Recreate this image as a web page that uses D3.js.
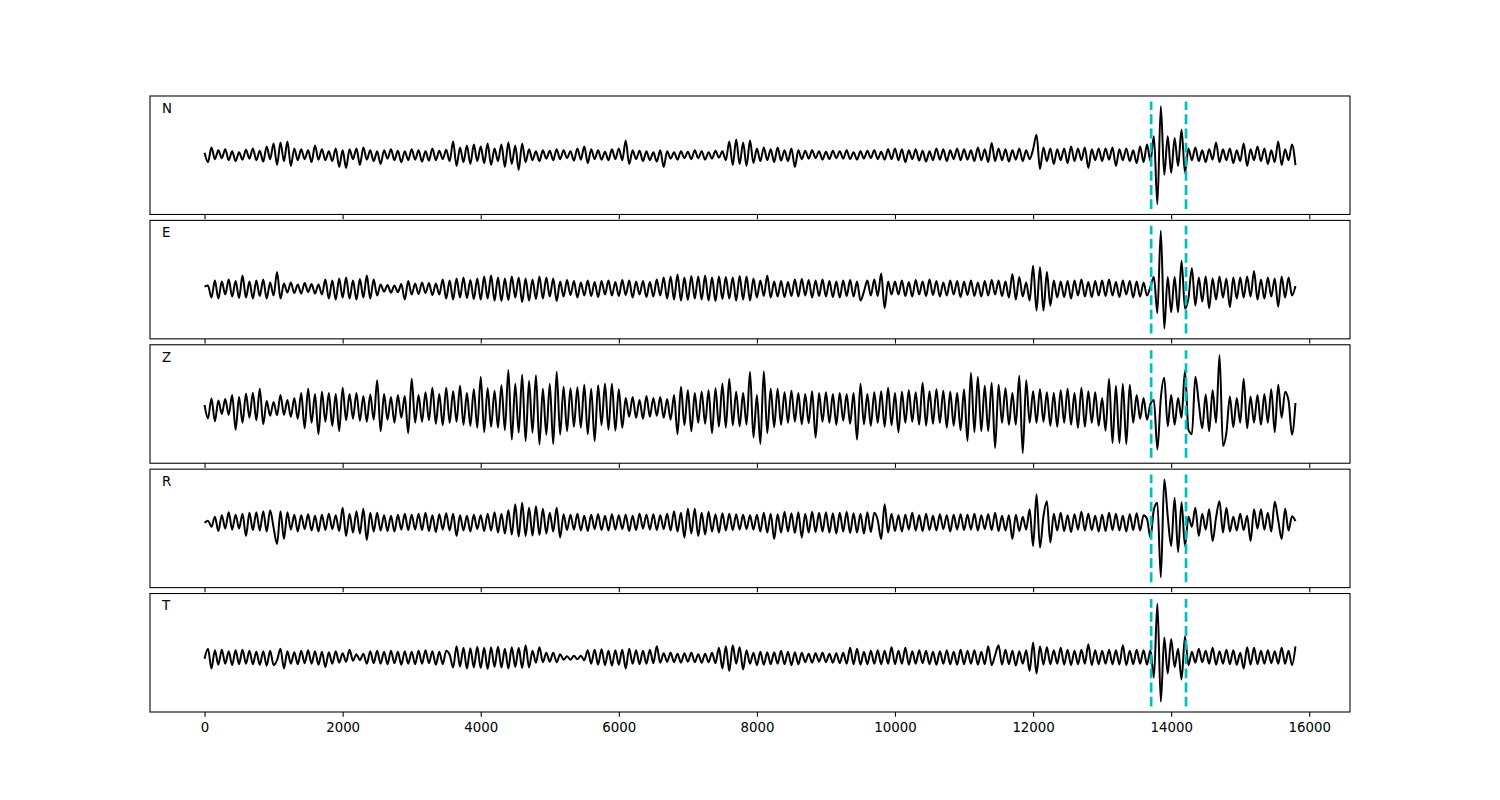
<!DOCTYPE html>
<html>
<head>
<meta charset="utf-8">
<script src="https://cdn.jsdelivr.net/npm/d3@7"></script>
<style>
  body { margin: 0; background: #fff; }
  svg { display: block; font-family: "DejaVu Sans", sans-serif; }
</style>
</head>
<body>
<svg id="chart" width="1500" height="800"></svg>
<script>
var channels = ["N", "E", "Z", "R", "T"];
var sampleStep = 50;

// amplitudes, one value every 50 samples (a row = 1000 samples)
var traceN = [
  5,-14,16,-8,10,-6,12,-10,8,-12,6,-9,11,-7,14,-10,9,-13,18,-8,
  24,-20,26,-12,28,-22,14,-10,12,-8,10,-14,20,-9,12,-10,8,-12,14,-24,
  10,-26,12,-8,14,-20,16,-9,10,-12,8,-18,10,-7,12,-10,9,-14,8,-10,
  12,-9,10,-13,8,-11,14,-10,9,-8,11,-12,28,-22,16,-14,20,-18,22,-12,
  18,-16,24,-20,14,-12,22,-24,26,-18,20,-30,24,-14,12,-10,8,-12,10,-7,
  9,-10,12,-8,10,-6,8,-11,14,-9,18,-16,12,-8,10,-9,7,-10,12,-8,
  14,-10,30,-18,10,-8,9,-12,8,-10,6,-13,10,-24,8,-7,6,-9,8,-6,
  7,-8,10,-6,8,-9,6,-7,9,-5,8,-10,28,-20,32,-18,26,-22,30,-16,
  14,-12,16,-10,12,-14,16,-11,10,-12,14,-24,10,-8,9,-7,10,-6,8,-9,
  7,-8,9,-6,8,-7,10,-8,6,-9,8,-7,9,-6,10,-8,7,-9,12,-8,
  14,-10,12,-14,10,-8,12,-11,9,-13,8,-10,14,-9,12,-12,10,-8,14,-10,
  12,-9,10,-12,16,-10,12,-14,25,-12,14,-10,12,-13,10,-9,14,-12,10,-8,
  12,42,-28,16,-12,14,-18,12,-10,14,-16,18,-12,14,-10,16,-26,12,-10,14,
  -12,14,-9,16,-22,12,-10,14,-12,10,-16,18,-14,22,-12,39,-100,100,-40,39,
  -36,35,-22,52,-36,14,-10,16,-12,10,-14,12,-9,26,-14,12,-10,14,-16,10,
  -12,24,-22,12,-10,18,-12,14,-18,10,-14,28,-20,12,-10,22,-20
];
var traceE = [
  4,6,-18,16,-20,14,-12,18,-16,15,-19,26,-18,14,-20,16,-15,18,-20,12,
  -14,33,-20,10,-8,12,-9,8,-10,11,-7,9,-10,8,-12,18,-20,16,-22,20,
  -18,22,-20,16,-22,19,-18,26,-20,18,-14,8,-6,7,-8,6,-7,9,-22,15,
  -12,10,-11,12,-9,11,-13,10,-12,18,-20,16,-22,20,-18,22,-19,17,-21,20,
  -22,24,-20,26,-24,22,-25,20,-23,24,-18,22,-27,20,-24,18,-21,24,-20,22,
  -16,20,-25,14,-16,17,-13,15,-18,12,-14,16,-15,13,-17,15,-12,16,-14,13,
  -15,17,-13,16,-18,14,-12,15,-17,13,-16,18,-14,22,-20,24,-22,28,-24,22,
  -23,25,-20,24,-22,26,-24,22,-25,24,-21,23,-20,22,-24,25,-22,24,-24,20,
  -18,16,-15,26,-18,14,-16,15,-17,13,-15,18,-16,19,-14,17,-18,16,-15,18,
  -16,15,-17,14,-18,16,-15,17,-16,14,-24,-6,16,-14,18,-15,30,-39,14,-12,
  14,-12,16,-15,13,-16,17,-12,14,-15,18,-13,15,-16,12,-14,16,-12,15,-17,
  14,-13,16,-15,12,-16,15,-14,17,-12,16,-15,14,-18,29,-22,23,-16,12,-24,
  46,-44,43,-44,33,-34,16,-18,14,-17,15,-20,16,-14,18,-16,13,-17,15,-14,
  16,-15,18,-14,13,-17,16,-12,15,-18,14,-16,12,-14,4,23,-49,116,-80,23,
  -47,23,-47,56,-40,-20,41,-34,22,-26,24,-39,20,-22,24,-18,20,-37,22,-20,
  22,-18,24,-16,35,-22,18,-20,22,-16,20,-36,24,-18,22,-14,5
];
var traceZ = [
  6,-21,19,-27,15,-12,18,-14,26,-44,22,-30,29,-20,31,-25,39,-33,14,-16,
  12,-15,26,-14,16,-18,20,-22,30,-41,39,-30,28,-53,33,-28,30,-36,28,-47,
  41,-25,28,-22,30,-26,24,-28,27,-24,56,-47,28,-24,22,-30,26,-20,24,-51,
  59,-30,26,-28,32,-25,41,-32,28,-35,41,-30,34,-28,45,-34,30,-36,38,-40,
  63,-49,40,-38,35,-40,46,-45,77,-64,49,-50,67,-67,55,-50,66,-74,39,-54,
  49,-73,73,-54,43,-47,40,-38,42,-40,47,-53,39,-67,46,-35,49,-44,49,-46,
  38,-40,20,-18,22,-20,16,-22,24,-18,20,-16,22,-20,18,-24,26,-53,43,-35,
  36,-47,30,-30,33,-32,36,-51,40,-38,49,-40,59,-35,33,-37,30,-34,73,-60,
  26,-73,74,-51,39,-39,39,-34,32,-30,35,-28,30,-33,28,-31,34,-60,30,-28,
  32,-30,28,-34,30,-26,28,-32,30,-64,49,-33,28,-36,32,-30,34,-38,41,-35,
  30,-49,33,-30,36,-28,32,-34,51,-36,34,-32,38,-30,35,-40,33,-36,30,-45,
  38,-67,71,-49,63,-47,45,-47,51,-81,47,-30,40,-34,30,-34,65,-91,56,-30,
  34,-30,38,-28,32,-36,30,-38,36,-30,39,-34,30,-40,41,-38,34,-30,32,-36,
  20,-46,59,-71,45,-71,49,-73,47,-30,26,-22,20,-24,8,16,-84,20,61,-37,
  26,-34,20,-20,76,-44,-53,63,10,-41,27,-47,36,-30,107,-77,-50,23,-39,20,
  -30,59,-41,23,-30,26,-34,28,-30,38,-49,47,-20,33,15,-54,10
];
var traceR = [
  0,4,-8,12,-17,15,-12,21,-14,16,-12,18,-27,20,-15,21,-16,23,-18,25,
  -10,-43,23,-33,21,-14,16,-18,15,-13,17,-16,14,-18,16,-15,18,-13,15,-17,
  30,-27,18,-20,23,-22,28,-35,20,-18,20,-16,15,-17,14,-18,16,-14,18,-15,
  16,-14,18,-15,20,-17,15,-19,17,-14,19,-16,18,-27,15,-16,14,-18,16,-13,
  15,-17,18,-16,21,-20,18,-22,25,-24,37,-28,40,-27,30,-26,33,-25,28,-22,
  20,-18,30,-30,17,-15,16,-14,18,-16,14,-17,16,-13,17,-15,14,-16,17,-14,
  15,-13,16,-17,14,-15,18,-12,16,-14,17,-15,15,-13,18,-16,23,-18,20,-30,
  28,-22,28,-27,20,-24,22,-18,17,-20,19,-16,18,-15,17,-14,16,-13,15,-14,
  16,-18,20,-20,18,-33,17,-20,22,-18,19,-21,21,-30,18,-20,22,-19,20,-18,
  21,-20,19,-22,20,-18,22,-21,19,-20,18,-22,21,-19,20,5,-33,37,-20,18,
  -17,15,-18,16,-14,20,-16,15,-17,18,-15,14,-16,17,-13,15,-18,16,-14,17,
  -15,16,-14,18,-16,15,-13,17,-15,20,-17,14,-16,15,-33,16,-17,12,-14,27,
  -47,57,-50,13,43,-40,18,-16,20,-17,15,-19,17,-14,22,-16,18,-15,14,-18,
  16,-17,20,-15,18,-16,14,-18,17,-15,19,-16,15,8,-30,27,40,-110,87,13,
  -47,50,-59,41,-47,12,-8,30,-27,18,-14,27,-37,10,43,-20,30,-18,12,-16,
  18,-15,14,-37,27,-12,27,-14,20,-18,42,5,-33,28,-16,13,3
];
var traceT = [
  -2,18,-22,15,-14,16,-12,13,-15,15,-13,16,-12,14,-13,12,-14,13,-16,14,
  -15,-5,18,-22,13,-12,11,-13,14,-11,15,-12,13,-14,12,-19,11,-12,13,-10,
  9,-8,16,-6,7,-5,8,-12,13,-11,14,-12,12,-13,14,-11,12,-14,13,-12,
  12,-13,14,-12,15,-11,13,-14,12,-13,14,6,-20,23,-18,20,-22,19,-20,22,
  -21,20,-23,21,-19,22,-20,18,-22,21,-19,20,-21,25,-20,14,-10,21,-9,10,
  -8,10,-9,7,-4,3,-4,4,-3,4,-5,15,-12,16,-14,17,-15,14,-16,15,
  -14,16,-22,18,-12,15,-13,14,-12,16,-11,23,-10,9,-8,10,-9,8,-10,9,
  -8,10,-9,7,-10,8,-9,10,-11,20,-22,23,-27,25,-12,21,-24,15,-12,10,
  -15,12,-14,11,-13,11,-12,14,-13,12,-15,11,-13,10,-9,8,-10,9,-8,10,
  -9,8,-10,9,-11,10,-12,20,-13,18,-14,12,-13,14,-12,15,-13,14,-12,21,
  -13,14,-12,20,-14,13,-12,15,-11,14,-13,12,-14,13,-12,15,-13,12,-14,16,
  -13,14,-12,15,-14,12,-13,23,-15,5,25,-14,16,-13,14,-16,13,-12,15,-27,
  31,-32,23,-14,21,-13,15,-12,20,-14,16,-15,14,-13,16,-12,27,-15,15,-13,
  14,-12,16,-13,15,-14,25,-15,14,-13,16,-12,15,-14,15,-40,109,-89,41,-32,
  38,-19,18,-44,43,-15,12,-10,18,-9,14,-12,20,-14,13,-12,16,-13,15,-14,
  10,-22,21,-14,20,-13,14,-12,15,-11,13,-12,20,-12,14,-15,23
];
var traces = [traceN, traceE, traceZ, traceR, traceT];

var pickTimes = [13710, 14215];
var xTicks = [0, 2000, 4000, 6000, 8000, 10000, 12000, 14000, 16000];

var svg = d3.select("#chart");
var plotLeft = 150, plotRight = 1350, plotTop = 96, plotBottom = 712;
var hspace = 0.05;
var nPanels = channels.length;
var panelHeight = (plotBottom - plotTop) / (nPanels + (nPanels - 1) * hspace);
var panelGap = panelHeight * hspace;

var xMax = (traceN.length - 1) * sampleStep;
var xScale = d3.scaleLinear()
  .domain([-0.05 * xMax, 1.05 * xMax])
  .range([plotLeft, plotRight]);

function drawPanel(i){
  var y0 = plotTop + i * (panelHeight + panelGap);
  var values = traces[i];
  var data = values.map(function(v, j){ return {x: j * sampleStep, y: v}; });

  // autoscale twice, like the original: once for the trace, once more after the pick lines
  var ext = d3.extent(values);
  var r = ext[1] - ext[0];
  var lo = ext[0] - 0.05 * r, hi = ext[1] + 0.05 * r;
  var r1 = hi - lo;
  var yScale = d3.scaleLinear()
    .domain([lo - 0.05 * r1, hi + 0.05 * r1])
    .range([y0 + panelHeight, y0]);

  var g = svg.append("g").attr("class", "panel");

  var line = d3.line()
    .x(function(d){ return xScale(d.x); })
    .y(function(d){ return yScale(d.y); })
    .curve(d3.curveMonotoneX);

  g.append("path")
    .datum(data)
    .attr("d", line)
    .attr("fill", "none")
    .attr("stroke", "#000")
    .attr("stroke-width", 2)
    .attr("stroke-linejoin", "round");

  g.selectAll(".pick")
    .data(pickTimes)
    .enter().append("line")
    .attr("class", "pick")
    .attr("x1", function(d){ return xScale(d); })
    .attr("x2", function(d){ return xScale(d); })
    .attr("y1", yScale(lo))
    .attr("y2", yScale(hi))
    .attr("stroke", "#00bfbf")
    .attr("stroke-width", 2.67)
    .attr("stroke-dasharray", "9.87,4.27");

  var xAxis = d3.axisBottom(xScale)
    .tickValues(xTicks)
    .tickFormat(d3.format("d"))
    .tickSize(4.67)
    .tickPadding(5.5);
  if(i < nPanels - 1){
    xAxis.tickFormat("");
  }
  var ax = g.append("g")
    .attr("transform", "translate(0," + (y0 + panelHeight) + ")")
    .call(xAxis);
  ax.select(".domain").remove();
  ax.selectAll(".tick line").attr("stroke", "#000").attr("stroke-width", 1.07);
  ax.attr("font-family", "DejaVu Sans").attr("font-size", 13.33);
  ax.selectAll(".tick text").attr("fill", "#000");

  g.append("rect")
    .attr("x", plotLeft)
    .attr("y", y0)
    .attr("width", plotRight - plotLeft)
    .attr("height", panelHeight)
    .attr("fill", "none")
    .attr("stroke", "#000")
    .attr("stroke-width", 1.07);

  g.append("text")
    .attr("x", plotLeft + 12)
    .attr("y", y0 + 16.8)
    .attr("font-size", 13.33)
    .attr("fill", "#000")
    .text(channels[i]);
}

for(var i = 0; i < nPanels; i++){
  drawPanel(i);
}
</script>
</body>
</html>
